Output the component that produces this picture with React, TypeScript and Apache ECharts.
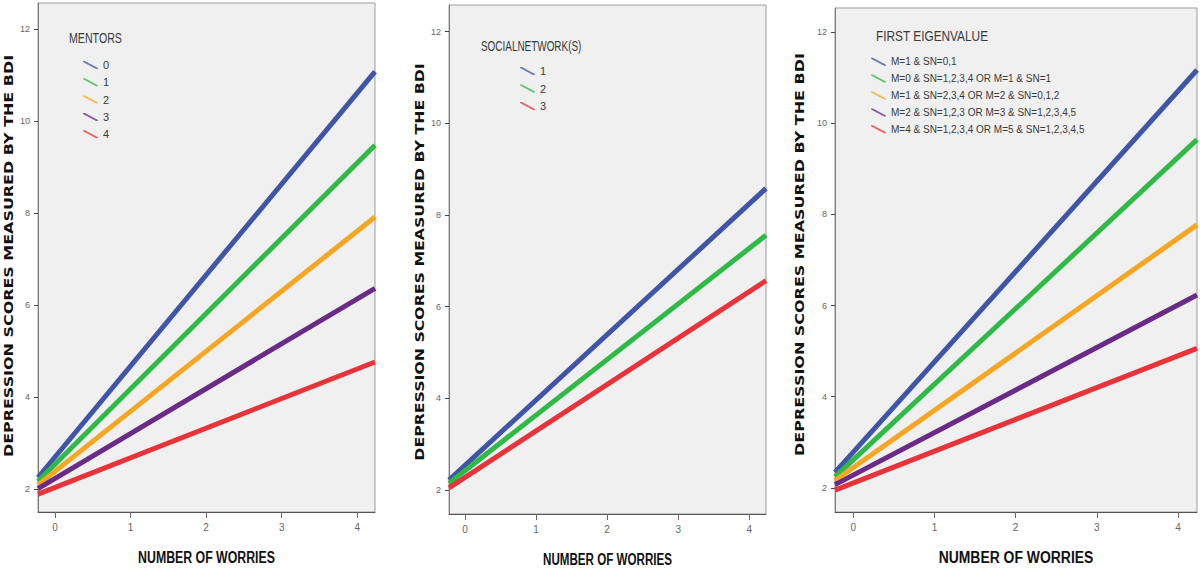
import React, { useEffect, useRef } from "react";
import * as echarts from "echarts";

// ---- data ----
const worryRange = [-0.225, 4.235]; // x extent of the fitted lines (number of worries)
const xTicks = [0, 1, 2, 3, 4];
const yTicks = [2, 4, 6, 8, 10, 12];

const mentorNames = ["0", "1", "2", "3", "4"];
const mentorStart = [2.26, 2.18, 2.1, 2.02, 1.9];
const mentorEnd = [11.08, 9.48, 7.92, 6.37, 4.77];

const socialNames = ["1", "2", "3"];
const socialStart = [2.22, 2.15, 2.05];
const socialEnd = [8.58, 7.56, 6.57];

const eigenNames = [
  "M=1 & SN=0,1",
  "M=0 & SN=1,2,3,4 OR M=1 & SN=1",
  "M=1 & SN=2,3,4 OR M=2 & SN=0,1,2",
  "M=2 & SN=1,2,3 OR M=3 & SN=1,2,3,4,5",
  "M=4 & SN=1,2,3,4 OR M=5 & SN=1,2,3,4,5",
];
const eigenStart = [2.34, 2.24, 2.16, 2.07, 1.95];
const eigenEnd = [11.17, 9.64, 7.77, 6.23, 5.06];

const fiveColors = ["#4155a6", "#2fba48", "#f5a623", "#6a2b86", "#e8333b"];
const threeColors = ["#4155a6", "#2fba48", "#e8333b"];

const Y_TITLE = "DEPRESSION SCORES MEASURED BY THE BDI";
const X_TITLE = "NUMBER OF WORRIES";

const NARROW = "'Liberation Sans Narrow', 'Liberation Sans', Arial, sans-serif";

type Panel = {
  divLeft: number;
  divWidth: number;
  grid: { left: number; top: number; width: number; height: number };
  yMin: number;
  yMax: number;
  names: string[];
  start: number[];
  end: number[];
  colors: string[];
  legendTitle: string;
  legendTitleX: number;
  legendTitleY: number;
  legendTitleSize: number;
  legendTitleScale: number;
  legendLeft: number;
  legendFirstY: number;
  legendStep: number;
  legendFont: number;
  yTitleX: number;
  yTitleY: number;
  yTitleScale: number;
  xTitleY: number;
  xTitleScale: number;
};

const panels: Panel[] = [
  {
    divLeft: 0,
    divWidth: 400,
    grid: { left: 38, top: 3, width: 337, height: 509 },
    yMin: 1.51,
    yMax: 12.57,
    names: mentorNames,
    start: mentorStart,
    end: mentorEnd,
    colors: fiveColors,
    legendTitle: "MENTORS",
    legendTitleX: 69,
    legendTitleY: 38,
    legendTitleSize: 14,
    legendTitleScale: 0.76,
    legendLeft: 83,
    legendFirstY: 65,
    legendStep: 17.3,
    legendFont: 11,
    yTitleX: 9,
    yTitleY: 256,
    yTitleScale: 1.387,
    xTitleY: 557,
    xTitleScale: 0.725,
  },
  {
    divLeft: 400,
    divWidth: 390,
    grid: { left: 49, top: 5, width: 317, height: 509 },
    yMin: 1.48,
    yMax: 12.58,
    names: socialNames,
    start: socialStart,
    end: socialEnd,
    colors: threeColors,
    legendTitle: "SOCIALNETWORK(S)",
    legendTitleX: 81,
    legendTitleY: 46.7,
    legendTitleSize: 14,
    legendTitleScale: 0.71,
    legendLeft: 120,
    legendFirstY: 71,
    legendStep: 17.5,
    legendFont: 11,
    yTitleX: 20,
    yTitleY: 262,
    yTitleScale: 1.37,
    xTitleY: 559,
    xTitleScale: 0.683,
  },
  {
    divLeft: 790,
    divWidth: 410,
    grid: { left: 45, top: 8, width: 362, height: 504 },
    yMin: 1.47,
    yMax: 12.53,
    names: eigenNames,
    start: eigenStart,
    end: eigenEnd,
    colors: fiveColors,
    legendTitle: "FIRST EIGENVALUE",
    legendTitleX: 86,
    legendTitleY: 35.7,
    legendTitleSize: 15,
    legendTitleScale: 0.79,
    legendLeft: 81,
    legendFirstY: 61.7,
    legendStep: 16.9,
    legendFont: 10,
    yTitleX: 10,
    yTitleY: 254.5,
    yTitleScale: 1.39,
    xTitleY: 557,
    xTitleScale: 0.82,
  },
];

function buildOption(p: Panel): any {
  const legendFont = p.legendFont;
  return {
    animation: false,
    grid: {
      ...p.grid,
      show: true,
      backgroundColor: "#f0f0f0",
      borderColor: "#9c9c9c",
      borderWidth: 1,
      containLabel: false,
    },
    xAxis: {
      type: "value",
      min: worryRange[0],
      max: worryRange[1],
      splitLine: { show: false },
      axisLine: { show: true, onZero: false, lineStyle: { color: "#555", width: 1 } },
      axisTick: {
        show: true,
        inside: false,
        length: 6,
        customValues: xTicks,
        lineStyle: { color: "#666" },
      },
      axisLabel: {
        customValues: xTicks,
        color: "#666",
        fontSize: 10,
        margin: 10,
        fontFamily: NARROW,
      },
    },
    yAxis: {
      type: "value",
      min: p.yMin,
      max: p.yMax,
      splitLine: { show: false },
      axisLine: { show: true, onZero: false, lineStyle: { color: "#7a7a7a", width: 1 } },
      axisTick: {
        show: true,
        inside: false,
        length: 4,
        customValues: yTicks,
        lineStyle: { color: "#444" },
      },
      axisLabel: {
        customValues: yTicks,
        color: "#666",
        fontSize: 9,
        margin: 8,
        fontFamily: NARROW,
      },
    },
    legend: {
      orient: "vertical",
      left: p.legendLeft,
      top: p.legendFirstY - legendFont / 2,
      padding: 0,
      itemWidth: 15,
      itemHeight: 8,
      itemGap: p.legendStep - legendFont,
      selectedMode: false,
      icon: "path://M0,0 L2,0 L15,7 L15,8 L13,8 L0,1 Z",
      itemStyle: { borderWidth: 0, opacity: 0.75 },
      data: p.names,
      textStyle: {
        fontSize: legendFont,
        lineHeight: legendFont,
        color: "#3a3a3a",
        fontFamily: NARROW,
      },
    },
    graphic: [
      {
        type: "text",
        x: p.legendTitleX,
        y: p.legendTitleY,
        scaleX: p.legendTitleScale,
        style: {
          text: p.legendTitle,
          fontSize: p.legendTitleSize,
          fontFamily: "'Liberation Sans', Arial, sans-serif",
          fill: "#3a3a3a",
          align: "left",
          verticalAlign: "middle",
        },
      },
      {
        type: "text",
        x: p.yTitleX,
        y: p.yTitleY,
        rotation: Math.PI / 2,
        scaleX: p.yTitleScale,
        style: {
          text: Y_TITLE,
          fontSize: 11.5,
          fontWeight: "bold",
          fontFamily: "'DejaVu Sans', sans-serif",
          fill: "#111",
          align: "center",
          verticalAlign: "middle",
        },
      },
      {
        type: "text",
        x: p.grid.left + p.grid.width / 2,
        y: p.xTitleY,
        scaleX: p.xTitleScale,
        style: {
          text: X_TITLE,
          fontSize: 17,
          fontWeight: "bold",
          fontFamily: "'Liberation Sans', Arial, sans-serif",
          fill: "#111",
          align: "center",
          verticalAlign: "middle",
        },
      },
    ],
    series: p.names.map((name, i) => ({
      name,
      type: "line",
      silent: true,
      showSymbol: false,
      symbol: "none",
      data: [
        [worryRange[0], p.start[i]],
        [worryRange[1], p.end[i]],
      ],
      itemStyle: { color: p.colors[i] },
      lineStyle: { color: p.colors[i], width: 5 },
    })),
  };
}

function ChartPanel({ panel }: { panel: Panel }) {
  const ref = useRef<HTMLDivElement>(null);
  useEffect(() => {
    if (!ref.current) return;
    const chart = echarts.init(ref.current, undefined, { renderer: "svg" });
    chart.setOption(buildOption(panel));
    return () => chart.dispose();
  }, [panel]);
  return (
    <div
      ref={ref}
      style={{
        position: "absolute",
        left: panel.divLeft,
        top: 0,
        width: panel.divWidth,
        height: 568,
      }}
    />
  );
}

export default function App() {
  return (
    <div
      style={{
        position: "fixed",
        left: 0,
        top: 0,
        width: 1200,
        height: 568,
        background: "#ffffff",
        overflow: "hidden",
      }}
    >
      {panels.map((p, i) => (
        <ChartPanel key={i} panel={p} />
      ))}
    </div>
  );
}
